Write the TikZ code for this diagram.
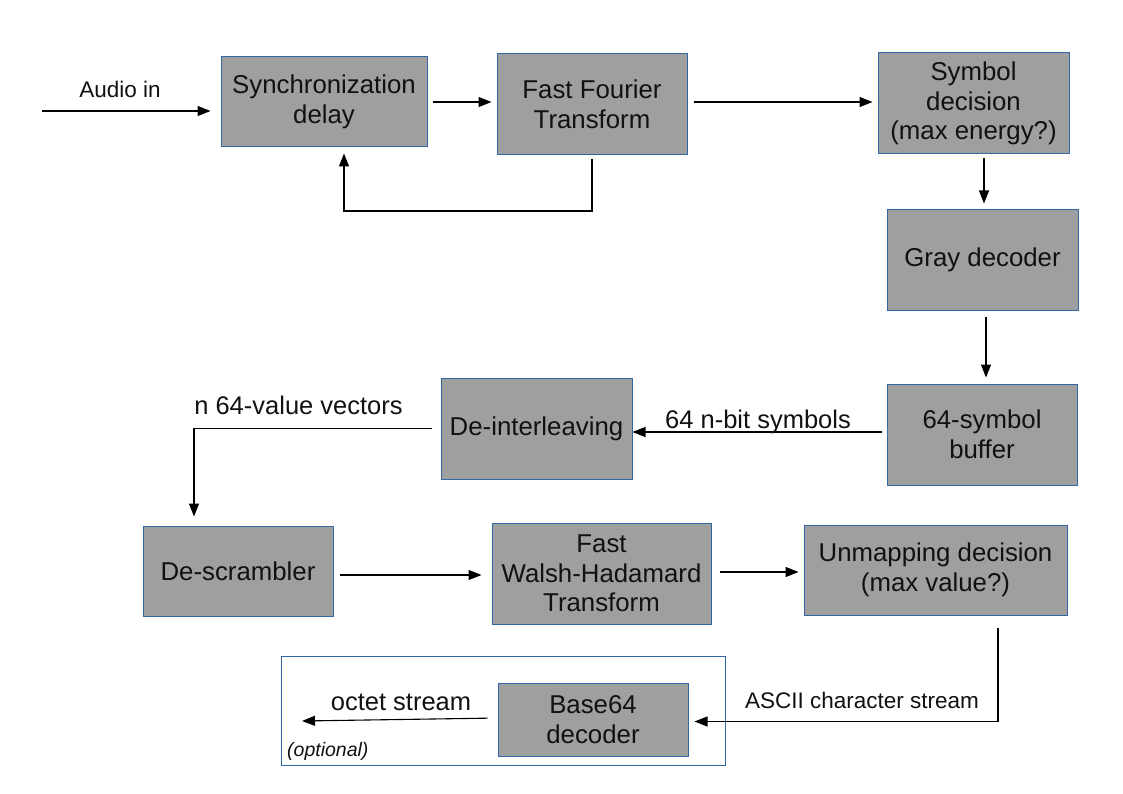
\documentclass[tikz,border=0pt]{standalone}
\usepackage{fontspec}
\setmainfont{Liberation Sans}
\usetikzlibrary{arrows.meta,calc}
\definecolor{boxfill}{HTML}{9F9F9F}
\definecolor{boxline}{HTML}{3465A4}
\definecolor{txt}{HTML}{111111}
\begin{document}
\begin{tikzpicture}[x=1pt,y=-1pt,
  blk/.style={draw=boxline,fill=boxfill,line width=1pt,inner sep=0pt,align=center,
    text=txt,font=\fontsize{25.8}{29.5}\selectfont},
  frm/.style={draw=boxline,line width=1pt,inner sep=0pt},
  arr/.style={draw=black,line width=1.1pt,-{Triangle[length=13pt,width=10pt]}},
  lbl/.style={anchor=base,inner sep=0pt,text=txt,font=\fontsize{25.5}{30}\selectfont},
  lbls/.style={anchor=base,inner sep=0pt,text=txt,font=\fontsize{22.5}{27}\selectfont}]
\useasboundingbox (0,0) rectangle (1123,794);
% optional frame
\node[frm,minimum width=444pt,minimum height=109pt] (opt) at (503,710.5) {};
% boxes
\node[blk,minimum width=206pt,minimum height=90pt] (sync) at (324,102) {Synchronization\\delay};
\node[blk,minimum width=190pt,minimum height=101pt] (fft) at (592,104.5) {Fast Fourier\\Transform};
\node[blk,minimum width=191pt,minimum height=101pt] (sym) at (973.5,103.5) {Symbol\\decision\\(max energy?)};
\node[blk,minimum width=191pt,minimum height=100pt] (gray) at (982.5,260) {Gray decoder};
\node[blk,minimum width=190pt,minimum height=101pt] (buf) at (982,434.5) {64-symbol\\buffer};
\node[blk,minimum width=191pt,minimum height=101pt] (deint) at (536.5,428.5) {De-interleaving};
\node[blk,minimum width=190pt,minimum height=90pt] (desc) at (238,571) {De-scrambler};
\node[blk,minimum width=219pt,minimum height=101pt] (fwht) at (601.5,573.5) {Fast\\Walsh-Hadamard\\Transform};
\node[blk,minimum width=263pt,minimum height=90pt] (unmap) at (935.5,570) {Unmapping decision\\(max value?)};
\node[blk,minimum width=190pt,minimum height=73pt] (b64) at (593,719.5) {Base64\\decoder};
% free ends
\coordinate (ain) at (42,111);
\coordinate (aout) at (302,721);
% connectors
\draw[arr,shorten >=10pt] (ain) -- (ain -| sync.west);
\draw[arr,shorten <=5pt,shorten >=5pt] (sync.east) -- (sync.east -| fft.west);
\draw[arr,shorten <=6pt,shorten >=5pt] (fft.east |- sync.east) -- (sym.west |- sync.east);
\draw[arr,shorten <=4pt,shorten >=6pt] (fft.south) -- (fft.south |- 0,211) -| ([xshift=20pt]sync.south);
\draw[arr,shorten <=4pt,shorten >=6pt] ([xshift=1.5pt]sym.south -| gray.north) -- ([xshift=1.5pt]gray.north);
\draw[arr,shorten <=6pt,shorten >=6pt] ([xshift=3.5pt]gray.south) -- ([xshift=4pt]buf.north);
\draw[arr,shorten <=5pt,shorten >=0pt] ([yshift=2.5pt]buf.west) -- ([yshift=2.5pt]buf.west -| deint.east);
\draw[arr,shorten <=9pt,shorten >=9pt] (deint.west) -| ([xshift=-44pt]desc.north);
\draw[arr,shorten <=6pt,shorten >=10pt] ([yshift=-4pt]desc.east) -- ([yshift=-4pt]desc.east -| fwht.west);
\draw[arr,shorten <=8pt,shorten >=5pt] ([yshift=1.5pt]fwht.east) -- ([yshift=1.5pt]fwht.east -| unmap.west);
\draw[arr,shorten <=12pt,shorten >=6pt] ([xshift=62.5pt]unmap.south) |- ([yshift=-2pt]b64.east);
\draw[arr,shorten <=10pt] ([yshift=1.5pt]b64.west) -- (aout);
% labels
\node[lbls] (lain) at (120,98) {Audio in};
\node[lbl] (lsym) at (758,428) {64 n-bit symbols};
\node[lbl] (lvec) at (298.5,414) {n 64-value vectors};
\node[lbls] (lascii) at (862,708) {ASCII character stream};
\node[lbl] (loct) at (401,710) {octet stream};
\node[anchor=base west,inner sep=0pt,text=txt,font=\fontsize{19.5}{23}\selectfont\itshape] (lopt) at (287,756) {(optional)};
\end{tikzpicture}
\end{document}
